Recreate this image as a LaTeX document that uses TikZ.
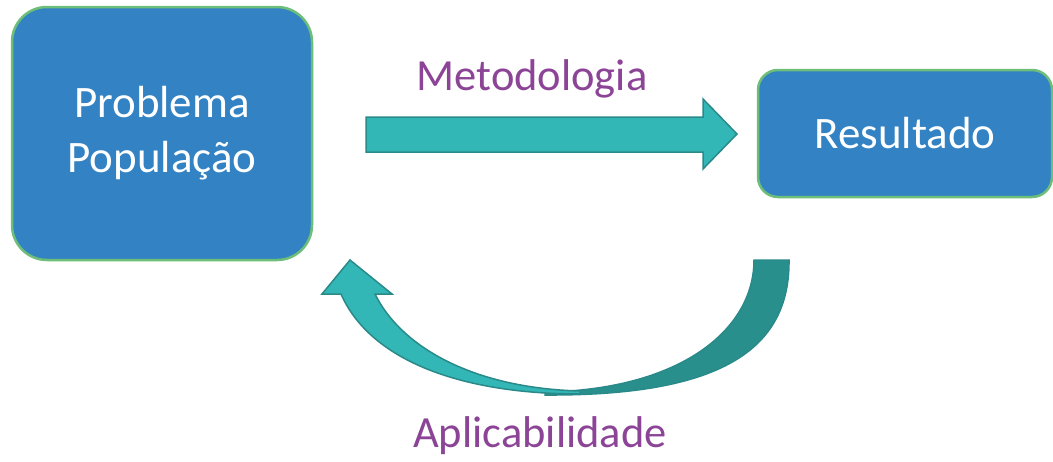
\documentclass[tikz,border=0pt]{standalone}
\usepackage{fontspec}
\setmainfont{Carlito}
\definecolor{boxblue}{HTML}{3282C4}
\definecolor{boxedge}{HTML}{6DBE78}
\definecolor{tealfill}{HTML}{33B6B6}
\definecolor{tealdark}{HTML}{288F8C}
\definecolor{tealedge}{HTML}{2A8A8A}
\definecolor{labpurple}{HTML}{8C4496}
\tikzset{
  bluebox/.style={draw=boxedge, line width=2.5pt, fill=boxblue, text=white, align=center, inner sep=0pt},
  lab/.style={text=labpurple, anchor=base, inner sep=0pt, font=\fontsize{44.5}{50}\selectfont},
  blockarrow/.style={fill=tealfill, draw=tealedge, line width=1.5pt, line join=miter},
  backarrow/.style={fill=tealdark, draw=tealedge, line width=1.5pt}
}
\begin{document}
\begin{tikzpicture}[x=1pt,y=-1pt]
\useasboundingbox (0,0) rectangle (1053,461);
\node[bluebox, minimum width=300pt, minimum height=253pt, rounded corners=35pt,
      font=\fontsize{45}{55}\selectfont] (prob) at (162,133.5) {Problema\\População};
\node[bluebox, minimum width=294pt, minimum height=127pt, rounded corners=20pt,
      font=\fontsize{45}{54}\selectfont] (res) at (905,133.5) {Resultado};
\node[lab] (met) at (532,90) {Metodologia};
\node[lab] (apl) at (540,447) {Aplicabilidade};
% straight block arrow
\draw[blockarrow] (366,117) -- (703,117) -- (703,99) -- (737,134) -- (703,169) -- (703,152) -- (366,152) -- cycle;
% curved block arrow: back (dark) part
\draw[backarrow] (754,260) -- (789,260)
  .. controls (790,350) and (720,396) .. (545,395)
  -- (545,392) .. controls (680,390) and (754,330) .. (754,260) -- cycle;
% front (light) part with head
\draw[blockarrow] (341,294) -- (322,294) -- (350,260) -- (392,294) -- (375,294)
  .. controls (400,345) and (470,388) .. (580,391)
  -- (580,394)
  .. controls (460,394) and (370,360) .. (341,294) -- cycle;
\end{tikzpicture}
\end{document}
